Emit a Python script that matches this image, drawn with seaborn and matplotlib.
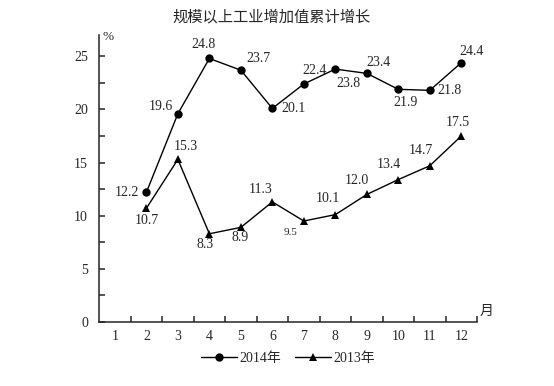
import pandas as pd
import matplotlib
matplotlib.use('Agg')
import matplotlib.pyplot as plt
import seaborn as sns

months = [2, 3, 4, 5, 6, 7, 8, 9, 10, 11, 12]
growth_2014 = [12.2, 19.6, 24.8, 23.7, 20.1, 22.4, 23.8, 23.4, 21.9, 21.8, 24.4]
growth_2013 = [10.7, 15.3, 8.3, 8.9, 11.3, 9.5, 10.1, 12.0, 13.4, 14.7, 17.5]
month_labels = [str(m) for m in range(1, 13)]

# label offsets in pixels (dx, dy) and alignment
off_2014 = [(-7, 0, 'right'), (-5, 7, 'right'), (-6, 14, 'center'), (6, 12, 'left'),
            (9, 0, 'left'), (11, 13, 'center'), (13, -14, 'center'), (12, 11, 'center'),
            (7, -13, 'center'), (8, 0, 'left'), (10, 11, 'center')]
off_2013 = [(0, -12, 'center'), (8, 13, 'center'), (-4, -11, 'center'), (-1, -10, 'center'),
            (-12, 12, 'center'), (-13, -11, 'center'), (-7, 16, 'center'), (-10, 14, 'center'),
            (-9, 15, 'center'), (-9, 15, 'center'), (-3, 14, 'center')]

sns.set_style('ticks')
plt.rcParams['font.family'] = ['Liberation Serif', 'Noto Sans CJK SC']
plt.rcParams['axes.linewidth'] = 1.1

df = pd.DataFrame({'month': months * 2,
                   'value': growth_2014 + growth_2013,
                   'year': ['2014年'] * len(months) + ['2013年'] * len(months)})

fig = plt.figure(figsize=(5.54, 3.86), dpi=100)
ax = fig.add_axes([0.179, 0.166, 0.682, 0.743])

sns.lineplot(data=df, x='month', y='value', hue='year', style='year',
             markers={'2014年': 'o', '2013年': '^'}, dashes=False,
             palette={'2014年': 'black', '2013年': 'black'},
             markersize=6, markeredgewidth=0, linewidth=1.0, ax=ax)

for m, v, (dx, dy, ha) in zip(months, growth_2014, off_2014):
    ax.annotate(f'{v:.1f}', (m, v), xytext=(dx, dy), textcoords='offset pixels',
                ha=ha, va='center', fontsize=10)
for m, v, (dx, dy, ha) in zip(months, growth_2013, off_2013):
    ax.annotate(f'{v:.1f}', (m, v), xytext=(dx, dy), textcoords='offset pixels',
                ha=ha, va='center', fontsize=8 if v == 9.5 else 10)

ax.set_xlim(0.5, 12.5)
ax.set_ylim(0, 27)
ax.set_xticks(range(1, 13))
ax.set_xticklabels(month_labels)
ax.set_xticks([m + 0.5 for m in range(1, 13)], minor=True)
ax.tick_params(axis='x', which='major', length=0, pad=6, labelsize=10)
ax.tick_params(axis='x', which='minor', direction='in', length=4, width=1.1)
ax.set_yticks([0, 5, 10, 15, 20, 25])
ax.set_yticks([2.5, 7.5, 12.5, 17.5, 22.5], minor=True)
ax.tick_params(axis='y', which='both', direction='in', length=4, width=1.1, pad=8, labelsize=10)
sns.despine(ax=ax)
ax.set_xlabel('')
ax.set_ylabel('')

ax.text(0.6, 26.8, '%', ha='left', va='center', fontsize=9.5)
ax.text(1.008, 0.035, '月', transform=ax.transAxes, ha='left', va='center', fontsize=10)
fig.text(0.49, 0.955, '规模以上工业增加值累计增长', ha='center', va='center', fontsize=11)

ax.legend(loc='upper center', bbox_to_anchor=(0.5, -0.06), ncol=2, frameon=False,
          fontsize=10, handlelength=2.6, columnspacing=1.0, handletextpad=0.15)

fig.savefig('out.png', dpi=100)
